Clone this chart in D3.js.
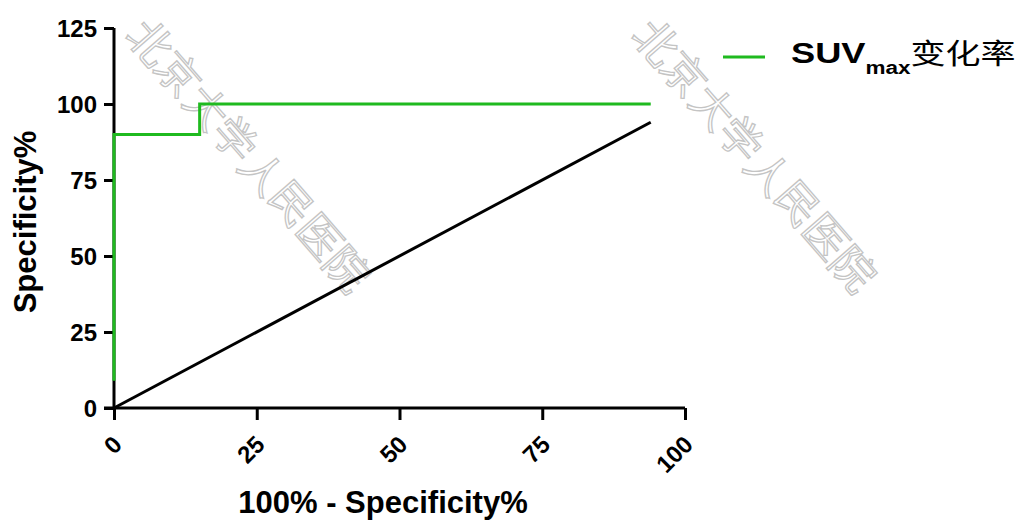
<!DOCTYPE html>
<html>
<head>
<meta charset="utf-8">
<script src="https://cdn.jsdelivr.net/npm/d3@7"></script>
<style>
body { margin: 0; background: #fff; }
text { font-family: Arial, "Liberation Sans", sans-serif; }
</style>
</head>
<body>
<div id="content"></div>
<script>
// ROC curve data
var rocX = [0, 0, 15, 15, 94];
var rocY = [9, 90, 90, 100, 100];
// reference diagonal
var refX = [0, 94];
var refY = [0, 94];
var yTicks = [0, 25, 50, 75, 100, 125];
var xTicks = [0, 25, 50, 75, 100];
var seriesName = 'SUV';
var watermark = '北京大学人民医院';

var svg = d3.select('#content').append('svg')
    .attr('width', 1028)
    .attr('height', 520);

var x = d3.scaleLinear().domain([0, 100]).range([114, 685]);
var y = d3.scaleLinear().domain([0, 125]).range([408, 28]);

// watermarks
[[126, 36], [632, 36]].forEach(function(p) {
    svg.append('text')
        .attr('transform', 'translate(' + p[0] + ',' + p[1] + ') rotate(49)')
        .attr('font-family', '"Noto Sans CJK SC", sans-serif')
        .attr('font-size', 42)
        .attr('font-weight', 300)
        .attr('letter-spacing', 1)
        .attr('fill', 'none')
        .attr('stroke', '#c4c4c4')
        .attr('stroke-width', 1.3)
        .text(watermark);
});

var yAxis = svg.append('g')
    .attr('transform', 'translate(114,0)')
    .call(d3.axisLeft(y).tickValues(yTicks).tickSize(10).tickPadding(7));
var xAxis = svg.append('g')
    .attr('transform', 'translate(0,408)')
    .call(d3.axisBottom(x).tickValues(xTicks).tickSize(12).tickPadding(4));

[yAxis, xAxis].forEach(function(a) {
    a.select('.domain').attr('stroke', '#000').attr('stroke-width', 3);
    a.selectAll('.tick line').attr('stroke', '#000').attr('stroke-width', 3);
    a.selectAll('.tick text')
        .attr('fill', '#000')
        .attr('font-size', 24)
        .attr('font-weight', 'bold')
        .attr('font-family', 'Arial, "Liberation Sans", sans-serif');
});
// plain domain lines (no outer ticks)
yAxis.select('.domain').attr('d', 'M0,' + y(125) + 'V' + y(0));
xAxis.select('.domain').attr('d', 'M' + (x(0) - 10) + ',0H' + x(100));
yAxis.selectAll('.tick text').attr('dy', '0.36em');

xAxis.selectAll('.tick text')
    .attr('text-anchor', 'end')
    .attr('dy', '0.35em')
    .attr('transform', 'translate(3,32) rotate(-45)')
    .attr('x', 0).attr('y', 0);

var line = d3.line()
    .x(function(d) { return x(d[0]); })
    .y(function(d) { return y(d[1]); });

svg.append('path')
    .datum(d3.zip(refX, refY))
    .attr('d', line)
    .attr('fill', 'none')
    .attr('stroke', '#000')
    .attr('stroke-width', 3);

svg.append('path')
    .datum(d3.zip(rocX, rocY))
    .attr('d', line)
    .attr('fill', 'none')
    .attr('stroke', '#1fba1f')
    .attr('stroke-width', 3);

// axis titles
svg.append('text')
    .attr('x', 383).attr('y', 513)
    .attr('text-anchor', 'middle')
    .attr('font-size', 31)
    .attr('font-weight', 'bold')
    .text('100% - Specificity%');

svg.append('text')
    .attr('transform', 'translate(36,222) rotate(-90)')
    .attr('text-anchor', 'middle')
    .attr('font-size', 31)
    .attr('font-weight', 'bold')
    .text('Specificity%');

// legend
svg.append('line')
    .attr('x1', 723).attr('x2', 765)
    .attr('y1', 57).attr('y2', 57)
    .attr('stroke', '#1fba1f')
    .attr('stroke-width', 3);

var lt = svg.append('text')
    .attr('transform', 'translate(791,63) scale(1.25,1)')
    .attr('font-size', 29)
    .attr('font-weight', 'bold');
lt.append('tspan').text(seriesName);
lt.append('tspan').attr('font-size', 18).attr('dy', 11).text('max');
lt.append('tspan')
    .attr('dy', -10)
    .attr('font-weight', 'normal')
    .attr('font-size', 28)
    .attr('font-family', '"Noto Sans CJK SC", sans-serif')
    .text('变化率');
</script>
</body>
</html>
